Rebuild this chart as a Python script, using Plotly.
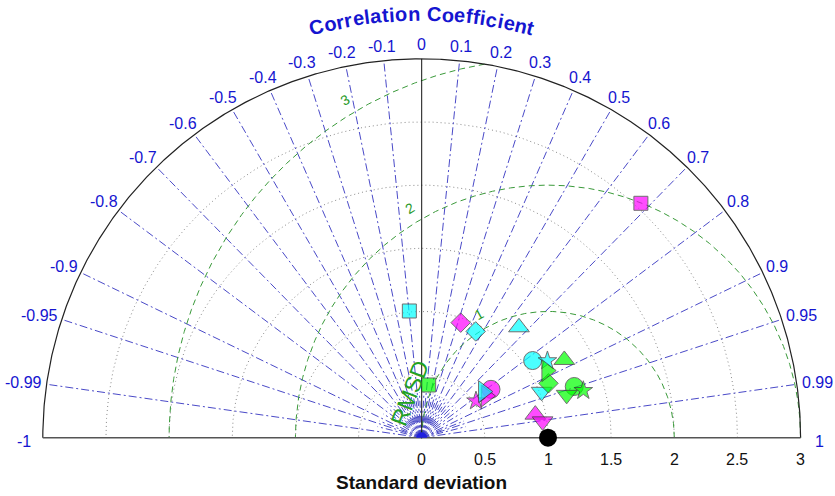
import numpy as np
import plotly.graph_objects as go

# ---------------- data ----------------
symbols = ["square", "diamond", "circle", "triangle-right", "star", "triangle-up", "triangle-down"]
group_colors = ["#FF00FF", "#00FFFF", "#00FF00"]

magenta_std = [2.541, 0.962, 0.669, 0.607, 0.519, 0.918, 0.966]
magenta_corr = [0.683, 0.321, 0.820, 0.839, 0.828, 0.980, 0.991]

cyan_std = [1.008, 0.944, 1.070, 0.609, 1.167, 1.165, 1.017]
cyan_corr = [-0.097, 0.453, 0.821, 0.801, 0.853, 0.661, 0.934]

green_std = [0.421, 1.092, 1.274, 1.123, 1.333, 1.286, 1.197]
green_corr = [0.131, 0.919, 0.948, 0.881, 0.960, 0.878, 0.959]

ref_std = 1.0
ref_corr = 1.0

std_ticks = [0, 0.5, 1, 1.5, 2, 2.5, 3]
std_tick_labels = ["0", "0.5", "1", "1.5", "2", "2.5", "3"]
std_grid = [0.5, 1.0, 1.5, 2.0, 2.5]
std_max = 3.0

corr_ticks = [-1, -0.99, -0.95, -0.9, -0.8, -0.7, -0.6, -0.5, -0.4, -0.3, -0.2, -0.1, 0,
              0.1, 0.2, 0.3, 0.4, 0.5, 0.6, 0.7, 0.8, 0.9, 0.95, 0.99, 1]
corr_minor = [-0.97, -0.93, -0.85, -0.75, -0.65, -0.55, -0.45, -0.35, -0.25, -0.15, -0.05,
              0.05, 0.15, 0.25, 0.35, 0.45, 0.55, 0.65, 0.75, 0.85, 0.93, 0.97]
rmsd_levels = [1, 2, 3]

# ---------------- layout constants ----------------
W, H = 835, 496
OX, OY = 421.7, 437.7      # origin in pixels
PX = 126.3                 # pixels per std unit

BLUE_LINE = "#4a4ac8"
GRAY_DOT = "#8a8a8a"
GREEN_LINE = "#3a9a3a"
LABEL_BLUE = "#1515d0"
FONT = "Liberation Sans, Arial, sans-serif"

fig = go.Figure()


def add_line(xs, ys, color, width, dash):
    fig.add_trace(go.Scatter(x=xs, y=ys, mode="lines",
                             line=dict(color=color, width=width, dash=dash),
                             hoverinfo="skip", showlegend=False))


t = np.linspace(0, np.pi, 721)

# std grid circles (dotted)
for s in std_grid:
    add_line(s * np.cos(t), s * np.sin(t), GRAY_DOT, 1, "1px,3px")

# minor correlation rays near origin
xs, ys = [], []
for c in corr_minor:
    phi = np.arccos(c)
    xs += [0, 0.36 * np.cos(phi), None]
    ys += [0, 0.36 * np.sin(phi), None]
add_line(xs, ys, BLUE_LINE, 1, "7px,3px,2px,3px")

# major correlation rays
xs, ys = [], []
for c in corr_ticks:
    if c in (-1, 0, 1):
        continue
    phi = np.arccos(c)
    xs += [0, std_max * np.cos(phi), None]
    ys += [0, std_max * np.sin(phi), None]
add_line(xs, ys, BLUE_LINE, 1, "8px,3px,2px,3px")

# RMSD circles centred on reference
for R in rmsd_levels:
    tt = np.linspace(0, np.pi, 1441)
    x = ref_std + R * np.cos(tt)
    y = R * np.sin(tt)
    m = x ** 2 + y ** 2 <= std_max ** 2 + 1e-9
    add_line(x[m], y[m], GREEN_LINE, 1, "6px,4px")

# outer arc, baseline, zero-correlation line
add_line(std_max * np.cos(t), std_max * np.sin(t), "#222222", 1.2, "solid")
add_line([-std_max, std_max], [0, 0], "#555555", 1.6, "solid")
add_line([0, 0], [0, std_max], "#111111", 1, "solid")

# blob at origin
tb = np.linspace(0, np.pi, 40)
fig.add_trace(go.Scatter(x=0.04 * np.cos(tb), y=0.04 * np.sin(tb), mode="lines", fill="toself",
                         fillcolor="#2020e0", line=dict(color="#2020e0", width=1),
                         hoverinfo="skip", showlegend=False))

# model points
sizes = {"square": 14, "diamond": 15, "circle": 18, "triangle-right": 19,
         "star": 14, "triangle-up": 18, "triangle-down": 18}
for col, stds, cors in [(group_colors[0], magenta_std, magenta_corr),
                        (group_colors[1], cyan_std, cyan_corr),
                        (group_colors[2], green_std, green_corr)]:
    stds = np.array(stds)
    cors = np.array(cors)
    th = np.arccos(cors)
    fig.add_trace(go.Scatter(
        x=stds * np.cos(th), y=stds * np.sin(th), mode="markers",
        marker=dict(symbol=symbols, size=[sizes[s] for s in symbols], color=col,
                    line=dict(color="#333333", width=1)),
        showlegend=False, hoverinfo="skip"))

# reference point
th = np.arccos(ref_corr)
fig.add_trace(go.Scatter(x=[ref_std * np.cos(th)], y=[ref_std * np.sin(th)], mode="markers",
                         marker=dict(symbol="circle", size=18, color="black"),
                         showlegend=False, hoverinfo="skip"))

ann = []

# std tick labels
for v, lab in zip(std_ticks, std_tick_labels):
    ann.append(dict(x=v, y=-22 / PX, text=lab, showarrow=False, xanchor="center", yanchor="middle",
                    font=dict(family=FONT, size=16, color="#111111")))

ann.append(dict(x=0, y=-(482 - OY) / PX, text="Standard deviation", showarrow=False,
                xanchor="center", yanchor="middle",
                font=dict(family=FONT, size=19, color="#111111", weight="bold")))


def twidth(s, fs):
    w = 0
    for ch in s:
        w += {"-": 0.333, ".": 0.278}.get(ch, 0.556)
    return w * fs


# correlation tick labels
for c in corr_ticks:
    phi = np.arccos(c)
    ax, ay = std_max * np.cos(phi), std_max * np.sin(phi)
    lab = f"{c:g}"
    w = twidth(lab, 16)
    if abs(c) == 1:
        ox, oy = 19 * np.sign(c), -4
    else:
        ox = np.cos(phi) * (w / 2 + 5)
        oy = np.sin(phi) * 14
    ann.append(dict(x=ax + ox / PX, y=ay + oy / PX, text=lab, showarrow=False,
                    xanchor="center", yanchor="middle",
                    font=dict(family=FONT, size=16, color=LABEL_BLUE)))

# curved title
title = "Correlation Coefficient"
wmap = {"C": .722, "o": .611, "r": .389, "e": .556, "l": .278, "a": .556, "t": .333,
        "i": .278, "n": .611, " ": .278, "f": .333, "c": .556}
fs_t = 20
arc_len = 228.0
base = np.array([wmap[ch] * fs_t for ch in title])
gap = (arc_len - base.sum()) / len(title)
widths = base + gap
centers = np.cumsum(widths) - widths / 2 - arc_len / 2
R_t = 424.0
for ch, s in zip(title, centers):
    if ch == " ":
        continue
    ph = np.pi / 2 - s / R_t
    ann.append(dict(x=R_t * np.cos(ph) / PX, y=R_t * np.sin(ph) / PX, text=ch, showarrow=False,
                    xanchor="center", yanchor="middle", textangle=90 - np.degrees(ph),
                    font=dict(family=FONT, size=fs_t, color=LABEL_BLUE, weight="bold")))

# RMSD labels
for R in rmsd_levels:
    a = np.radians(121 if R > 1 else 119)
    d = R + 0.12
    lx, ly = ref_std + d * np.cos(a), d * np.sin(a)
    ann.append(dict(x=lx, y=ly, text=str(R), showarrow=False, xanchor="center", yanchor="middle",
                    textangle=90 - np.degrees(a),
                    font=dict(family=FONT, size=14, color="#2a9a2a")))

ann.append(dict(x=(410 - OX) / PX, y=(OY - 393) / PX, text="RMSD", showarrow=False,
                xanchor="center", yanchor="middle", textangle=-69,
                font=dict(family=FONT, size=23, color="#22a022")))

fig.update_layout(
    width=W, height=H, autosize=False,
    margin=dict(l=0, r=0, t=0, b=0, pad=0),
    paper_bgcolor="white", plot_bgcolor="white",
    xaxis=dict(range=[-OX / PX, (W - OX) / PX], visible=False, fixedrange=True),
    yaxis=dict(range=[-(H - OY) / PX, OY / PX], visible=False, fixedrange=True),
    annotations=ann,
    showlegend=False,
)

fig.write_html("out.html")
